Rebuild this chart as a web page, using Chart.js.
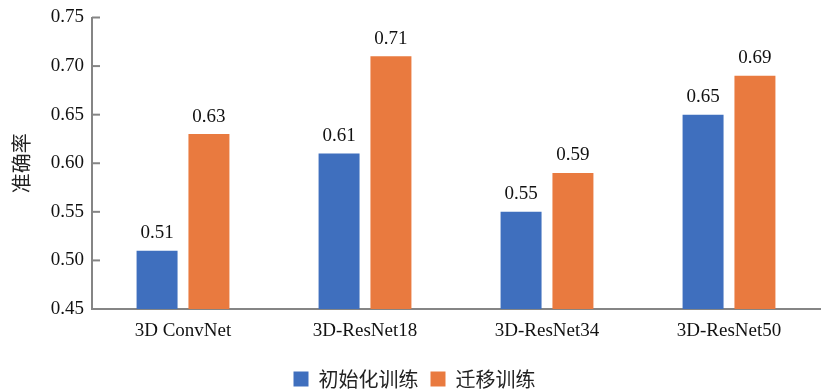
<!DOCTYPE html>
<html lang="zh">
<head>
<meta charset="UTF-8">
<title>准确率对比</title>
<script src="https://cdn.jsdelivr.net/npm/chart.js"></script>
<style>
  html, body { margin: 0; padding: 0; background: #fff; }
  #wrap { width: 823px; height: 390px; }
</style>
</head>
<body>
<div id="wrap"><canvas id="chartAcc"></canvas></div>
<script>
const modelos = ['3D ConvNet', '3D-ResNet18', '3D-ResNet34', '3D-ResNet50'];
const initTrain = [0.51, 0.61, 0.55, 0.65];
const transferTrain = [0.63, 0.71, 0.59, 0.69];
const yTicks = [0.45, 0.50, 0.55, 0.60, 0.65, 0.70, 0.75];

const serif = '"Liberation Serif", "Times New Roman", serif';
const cjk = '"Noto Sans CJK SC", sans-serif';
const axisGray = '#858585';

// valores encima de cada barra y marcas cortas hacia dentro del eje y
const extras = {
  id: 'extras',
  afterDatasetsDraw(chart) {
    const ctx = chart.ctx;
    ctx.save();
    ctx.fillStyle = '#111';
    ctx.font = '19px ' + serif;
    ctx.textAlign = 'center';
    ctx.textBaseline = 'bottom';
    chart.data.datasets.forEach((ds, i) => {
      chart.getDatasetMeta(i).data.forEach((bar, j) => {
        ctx.fillText(ds.data[j].toFixed(2), bar.x, bar.y - 8);
      });
    });
    const y = chart.scales.y;
    ctx.strokeStyle = axisGray;
    ctx.lineWidth = 2;
    yTicks.forEach(v => {
      const py = y.getPixelForValue(v);
      ctx.beginPath();
      ctx.moveTo(y.right, py);
      ctx.lineTo(y.right + 8, py);
      ctx.stroke();
    });
    ctx.restore();
  }
};

new Chart(document.getElementById('chartAcc'), {
  type: 'bar',
  data: {
    labels: modelos,
    datasets: [
      { label: '初始化训练', data: initTrain, backgroundColor: '#3F6FBE' },
      { label: '迁移训练', data: transferTrain, backgroundColor: '#E97A3F' }
    ]
  },
  options: {
    responsive: true,
    maintainAspectRatio: false,
    animation: false,
    layout: { padding: { top: 0, right: 3, left: 9, bottom: -9 } },
    datasets: { bar: { categoryPercentage: 0.57, barPercentage: 0.79 } },
    scales: {
      x: {
        afterFit: s => { s.height = 48; },
        grid: { display: false, drawTicks: false },
        border: { color: axisGray, width: 2 },
        ticks: { color: '#111', font: { family: serif, size: 19 }, padding: 11 }
      },
      y: {
        min: 0.45,
        max: 0.75,
        afterBuildTicks: s => { s.ticks = yTicks.map(v => ({ value: v })); },
        afterFit: s => { s.width = 83; },
        grid: { display: false, drawTicks: false },
        border: { color: axisGray, width: 2 },
        ticks: { color: '#111', font: { family: serif, size: 19, lineHeight: 1 }, padding: 8,
                 callback: v => v.toFixed(2) },
        title: { display: true, text: '准确率', color: '#222',
                 font: { family: cjk, size: 20 }, padding: 0 }
      }
    },
    plugins: {
      legend: {
        position: 'bottom',
        labels: { color: '#222', font: { family: cjk, size: 20 },
                  boxWidth: 15, boxHeight: 15, padding: 12 }
      },
      tooltip: { enabled: false }
    }
  },
  plugins: [extras]
});
</script>
</body>
</html>
